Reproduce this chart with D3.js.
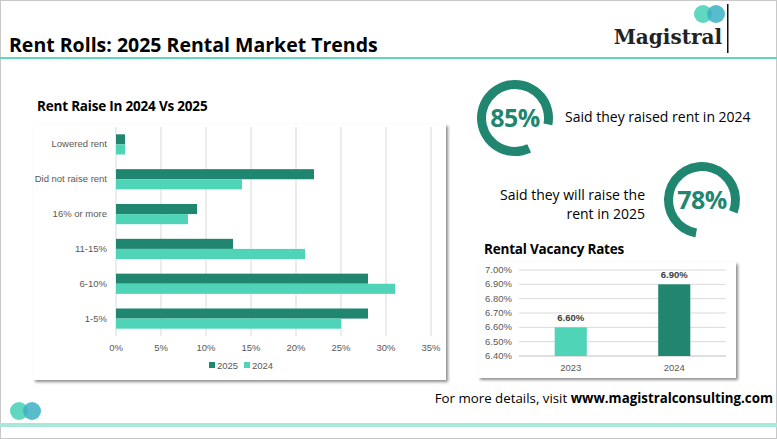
<!DOCTYPE html>
<html><head><meta charset="utf-8">
<script src="https://cdn.jsdelivr.net/npm/d3@7"></script>
<style>body{margin:0;background:#fff}svg{display:block;font-family:"Open Sans",sans-serif}</style>
</head><body><svg id="c" width="777" height="439"></svg>
<script>
const categories=["Lowered rent","Did not raise rent","16% or more","11-15%","6-10%","1-5%"];
const values2025=[1,22,9,13,28,28];
const values2024=[1,14,8,21,31,25];
const xTicks=[0,5,10,15,20,25,30,35];
const vacYears=["2023","2024"];
const vacRates=[6.60,6.90];
const vacTicks=[6.40,6.50,6.60,6.70,6.80,6.90,7.00];
const stats=[{v:85,text:["Said they raised rent in 2024"]},{v:78,text:["Said they will raise the","rent in 2025"]}];
const dark="#218670",light="#4fd4b8";
const svg=d3.select("#c");
const defs=svg.append("defs");
const f=defs.append("filter").attr("id","sh").attr("x","-5%").attr("y","-5%").attr("width","110%").attr("height","115%");
f.append("feDropShadow").attr("dx",2).attr("dy",2).attr("stdDeviation",1.5).attr("flood-color","#000").attr("flood-opacity",0.45);
svg.append("rect").attr("x",0.5).attr("y",0.5).attr("width",776).attr("height",438).attr("fill","#fff").attr("stroke","#c8c8c8");
svg.append("text").attr("x",9).attr("y",52).attr("font-size",19.5).attr("font-weight","bold").text("Rent Rolls: 2025 Rental Market Trends");
svg.append("rect").attr("x",0).attr("y",57).attr("width",777).attr("height",2).attr("fill","#5fd6bd");
// logo
svg.append("circle").attr("cx",703).attr("cy",14).attr("r",9).attr("fill","#4fd4b8").attr("opacity",0.9);
svg.append("circle").attr("cx",716).attr("cy",14).attr("r",9).attr("fill","#3cb0c4").attr("opacity",0.85);
svg.append("text").attr("x",722).attr("y",44).attr("text-anchor","end").attr("font-family","'DejaVu Serif',serif").attr("font-weight","bold").attr("font-size",20).attr("fill","#222").text("Magistral");
svg.append("rect").attr("x",727).attr("y",4).attr("width",1.5).attr("height",49).attr("fill","#111");
// bar chart
svg.append("text").attr("x",37).attr("y",111).attr("font-size",13.5).attr("font-weight","bold").attr("letter-spacing",-0.2).text("Rent Raise In 2024 Vs 2025");
svg.append("rect").attr("x",33).attr("y",124).attr("width",413).attr("height",256).attr("fill","#fff").attr("filter","url(#sh)");
const x=d3.scaleLinear().domain([0,35]).range([116,431]);
const y=d3.scaleBand().domain(categories).range([127,336]).paddingInner(0.42).paddingOuter(0.21);
const g=svg.append("g").attr("font-family","Arial,'Liberation Sans',sans-serif");
g.selectAll(".gl").data(xTicks).join("line").attr("x1",d=>x(d)).attr("x2",d=>x(d)).attr("y1",127).attr("y2",336).attr("stroke","#d9d9d9");
g.selectAll(".tl").data(xTicks).join("text").attr("x",d=>x(d)).attr("y",351).attr("text-anchor","middle").attr("font-size",9.5).attr("fill","#595959").text(d=>d+"%");
g.selectAll(".cl").data(categories).join("text").attr("x",107).attr("y",d=>y(d)+y.bandwidth()/2+3).attr("text-anchor","end").attr("font-size",9.5).attr("fill","#595959").text(d=>d);
const bh=y.bandwidth()/2;
g.selectAll(".b25").data(categories).join("rect").attr("x",x(0)).attr("y",d=>y(d)).attr("height",bh).attr("width",(d,i)=>x(values2025[i])-x(0)).attr("fill",dark);
g.selectAll(".b24").data(categories).join("rect").attr("x",x(0)).attr("y",d=>y(d)+bh).attr("height",bh).attr("width",(d,i)=>x(values2024[i])-x(0)).attr("fill",light);
const lg=g.append("g").attr("font-size",9.5).attr("fill","#595959");
lg.append("rect").attr("x",209).attr("y",362).attr("width",6).attr("height",6).attr("fill",dark);
lg.append("text").attr("x",217).attr("y",369).text("2025");
lg.append("rect").attr("x",244).attr("y",362).attr("width",6).attr("height",6).attr("fill",light);
lg.append("text").attr("x",252).attr("y",369).text("2024");
// donuts
const centers=[[515,118],[702,200]];
const starts=[155,190];
stats.forEach((s,i)=>{
  const [cx,cy]=centers[i];
  const a0=starts[i]*Math.PI/180;
  const arc=d3.arc().innerRadius(29).outerRadius(38).startAngle(a0).endAngle(a0+2*Math.PI*s.v/100);
  svg.append("path").attr("d",arc()).attr("transform",`translate(${cx},${cy})`).attr("fill",dark);
  svg.append("text").attr("x",cx).attr("y",cy+9).attr("text-anchor","middle").attr("font-size",25).attr("font-weight","bold").attr("letter-spacing",-0.5).attr("fill",dark).text(s.v+"%");
});
svg.append("text").attr("x",565).attr("y",122).attr("font-size",14).text(stats[0].text[0]);
svg.append("text").attr("x",645).attr("y",200).attr("text-anchor","end").attr("font-size",14).text(stats[1].text[0]);
svg.append("text").attr("x",645).attr("y",219).attr("text-anchor","end").attr("font-size",14).text(stats[1].text[1]);
// vacancy
svg.append("text").attr("x",484).attr("y",254).attr("font-size",13.5).attr("font-weight","bold").attr("letter-spacing",-0.2).text("Rental Vacancy Rates");
svg.append("rect").attr("x",478).attr("y",262).attr("width",258).attr("height",116).attr("fill","#fff").attr("filter","url(#sh)");
const vy=d3.scaleLinear().domain([6.4,7.0]).range([356,270]);
const vx=d3.scaleBand().domain(vacYears).range([519,726]).paddingInner(0.69).paddingOuter(0.345);
const vg=svg.append("g").attr("font-family","Arial,'Liberation Sans',sans-serif");
vg.selectAll(".vg").data(vacTicks).join("line").attr("x1",519).attr("x2",726).attr("y1",d=>vy(d)).attr("y2",d=>vy(d)).attr("stroke",d=>d===6.4?"#bfbfbf":"#d9d9d9");
vg.selectAll(".vt").data(vacTicks).join("text").attr("x",512).attr("y",d=>vy(d)+3).attr("text-anchor","end").attr("font-size",9.5).attr("fill","#595959").text(d=>d.toFixed(2)+"%");
vg.selectAll(".vb").data(vacYears).join("rect").attr("x",d=>vx(d)).attr("width",vx.bandwidth()).attr("y",(d,i)=>vy(vacRates[i])).attr("height",(d,i)=>356-vy(vacRates[i])).attr("fill",(d,i)=>i?dark:light);
vg.selectAll(".vl").data(vacYears).join("text").attr("x",d=>vx(d)+vx.bandwidth()/2).attr("y",(d,i)=>vy(vacRates[i])-6).attr("text-anchor","middle").attr("font-size",9.5).attr("font-weight","bold").attr("fill","#404040").text((d,i)=>vacRates[i].toFixed(2)+"%");
vg.selectAll(".vx").data(vacYears).join("text").attr("x",d=>vx(d)+vx.bandwidth()/2).attr("y",371).attr("text-anchor","middle").attr("font-size",9.5).attr("fill","#595959").text(d=>d);
// footer
const ft=svg.append("text").attr("x",773).attr("y",403).attr("text-anchor","end").attr("font-size",13.3);
ft.append("tspan").text("For more details, visit ");
ft.append("tspan").attr("font-weight","bold").text("www.magistralconsulting.com");
svg.append("rect").attr("x",0).attr("y",423).attr("width",777).attr("height",4).attr("fill","#a8e8da");
svg.append("circle").attr("cx",19).attr("cy",411).attr("r",9).attr("fill","#4fd4b8").attr("opacity",0.9);
svg.append("circle").attr("cx",32).attr("cy",411).attr("r",9).attr("fill","#3cb0c4").attr("opacity",0.85);
</script></body></html>
